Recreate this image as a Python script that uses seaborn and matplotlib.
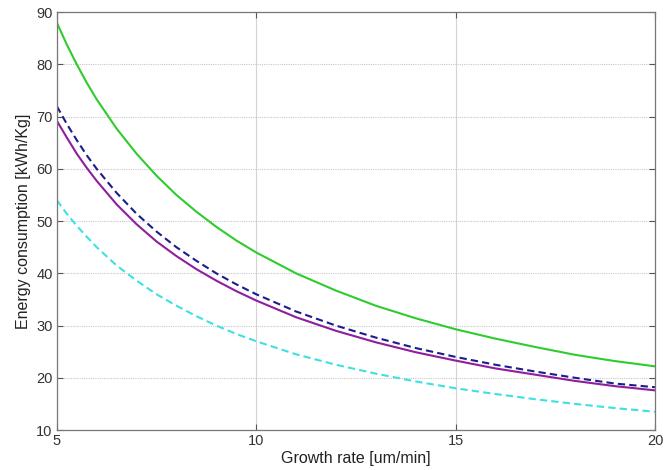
import matplotlib
matplotlib.use("Agg")
import matplotlib.pyplot as plt
import seaborn as sns
import pandas as pd

growth_rate = [5, 5.25, 5.5, 5.75, 6, 6.5, 7, 7.5, 8, 8.5, 9, 9.5, 10, 11, 12, 13, 14, 15, 16, 17, 18, 19, 20]
green_series = [88, 83.8, 80, 76.5, 73.3, 67.7, 62.9, 58.7, 55, 51.8, 48.9, 46.3, 44, 40, 36.7, 33.8, 31.4, 29.3, 27.5, 25.9, 24.4, 23.2, 22.2]
blue_series = [72, 68.6, 65.5, 62.6, 60, 55.4, 51.4, 48, 45, 42.4, 40, 37.9, 36, 32.7, 30, 27.7, 25.7, 24, 22.5, 21.2, 20, 18.9, 18.2]
purple_series = [69.2, 66, 62.9, 60.2, 57.7, 53.2, 49.4, 46.1, 43.3, 40.8, 38.6, 36.6, 34.8, 31.6, 29, 26.8, 24.9, 23.3, 21.8, 20.6, 19.4, 18.4, 17.6]
cyan_series = [54, 51.4, 49.1, 47, 45, 41.5, 38.6, 36, 33.8, 31.8, 30, 28.4, 27, 24.5, 22.5, 20.8, 19.3, 18, 16.9, 15.9, 15, 14.2, 13.5]
x_ticks = [5, 10, 15, 20]
y_ticks = [10, 20, 30, 40, 50, 60, 70, 80, 90]

sns.set_style("white")
plt.rcParams['font.family'] = ['Liberation Sans', 'DejaVu Sans']

fig = plt.figure(figsize=(6.69, 4.70), dpi=100)
ax = fig.add_axes([0.085, 0.085, 0.894, 0.889])

series = [
    (green_series, "#2ecc2e", "-"),
    (blue_series, "#1c1c8c", (0, (3.5, 2))),
    (purple_series, "#8e1e9e", "-"),
    (cyan_series, "#3ee0e0", (0, (3.5, 2))),
]
for vals, col, ls in series:
    df = pd.DataFrame({"x": growth_rate, "y": vals})
    sns.lineplot(data=df, x="x", y="y", ax=ax, color=col, linewidth=1.5, linestyle=ls)

ax.set_xlim(5, 20)
ax.set_ylim(10, 90)
ax.set_xticks(x_ticks)
ax.set_yticks(y_ticks)
ax.set_xticklabels([str(t) for t in x_ticks])
ax.set_yticklabels([str(t) for t in y_ticks])
ax.xaxis.grid(True, color="#d4d4d4", linestyle="-", linewidth=0.8)
ax.yaxis.grid(True, color="#c8c8c8", linestyle=(0, (1, 1)), linewidth=0.8)
ax.set_axisbelow(True)
ax.tick_params(direction="in", length=4, width=0.8, colors="#555555", labelcolor="#333333",
               labelsize=10.5, top=True, right=True, bottom=True, left=True, pad=3)
for s in ax.spines.values():
    s.set_color("#777777")
    s.set_linewidth(0.9)
ax.set_xlabel("Growth rate [um/min]", fontsize=11.5, color="#222222", labelpad=2)
ax.set_ylabel("Energy consumption [kWh/Kg]", fontsize=11.5, color="#222222", labelpad=4)

fig.savefig("out.png", dpi=100)
